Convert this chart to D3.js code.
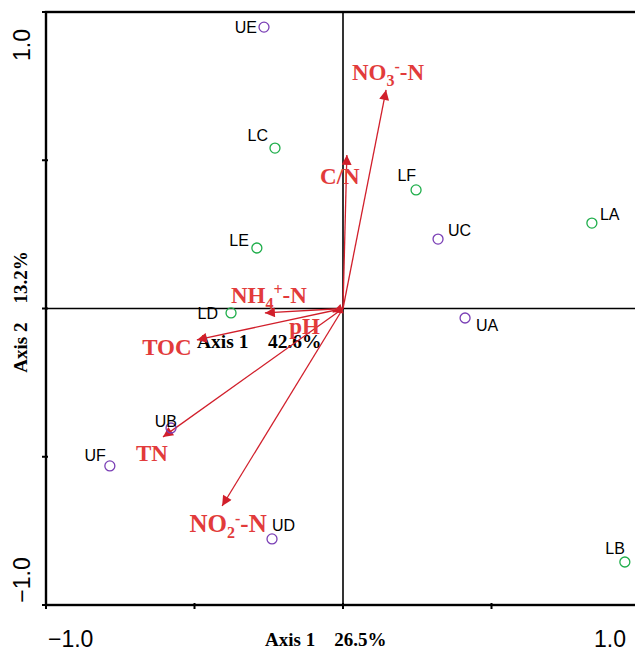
<!DOCTYPE html>
<html>
<head>
<meta charset="utf-8">
<script src="https://cdn.jsdelivr.net/npm/d3@7"></script>
<style>
  body { margin: 0; background: #fff; }
  svg { display: block; }
</style>
</head>
<body>
<div id="chart"></div>
<script>
/* RDA biplot: sites + environmental arrows */

// sites
const siteNames = ["UE", "LC", "LF", "LA", "UC", "LE", "LD", "UA", "UB", "UF", "UD", "LB"];
const siteX = [-0.266, -0.229, 0.246, 0.838, 0.320, -0.290, -0.377, 0.411, -0.579, -0.785, -0.239, 0.949];
const siteY = [0.949, 0.541, 0.400, 0.288, 0.234, 0.204, -0.015, -0.032, -0.403, -0.531, -0.777, -0.855];
const siteGroup = ["U", "L", "L", "L", "U", "L", "L", "U", "U", "U", "U", "L"];

// environmental variables
const envNames = ["NO3-N", "C/N", "NH4-N", "pH", "TOC", "TN", "NO2-N"];
const envX = [0.145, 0.013, -0.263, -0.035, -0.492, -0.606, -0.407];
const envY = [0.737, 0.518, -0.015, -0.012, -0.106, -0.433, -0.666];

const tickVals = [-1, -0.5, 0, 0.5, 1];

const width = 635,
      height = 651,
      margin = ({top: 12, right: -5, bottom: 46, left: 46});

const svg = d3.select("#chart")
    .append("svg")
    .attr("width", width)
    .attr("height", height);

const x = d3.scaleLinear()
    .domain([-1, 1])
    .range([margin.left, width - margin.right]);

const y = d3.scaleLinear()
    .domain([-1, 1])
    .range([height - margin.bottom, margin.top]);

const sans = "'Liberation Sans', Arial, sans-serif",
      serif = "'Liberation Serif', 'Times New Roman', serif",
      red = "#e23b3b",
      arrowRed = "#d11f2b";

// frame
svg.append("rect")
    .attr("x", x(-1)).attr("y", y(1))
    .attr("width", x(1) - x(-1)).attr("height", y(-1) - y(1))
    .attr("fill", "none").attr("stroke", "#000").attr("stroke-width", 2.4);

// zero lines
svg.append("line")
    .attr("x1", x(0)).attr("x2", x(0)).attr("y1", y(1)).attr("y2", y(-1))
    .attr("stroke", "#000").attr("stroke-width", 1.6);
svg.append("line")
    .attr("x1", x(-1)).attr("x2", x(1)).attr("y1", y(0)).attr("y2", y(0))
    .attr("stroke", "#000").attr("stroke-width", 1.6);

// ticks
svg.append("g").selectAll("line")
    .data(tickVals)
    .join("line")
    .attr("x1", d => x(d)).attr("x2", d => x(d))
    .attr("y1", y(-1) - 2).attr("y2", y(-1) + 4)
    .attr("stroke", "#000").attr("stroke-width", 2);
svg.append("g").selectAll("line")
    .data(tickVals)
    .join("line")
    .attr("y1", d => y(d)).attr("y2", d => y(d))
    .attr("x1", x(-1) - 4).attr("x2", x(-1) + 2)
    .attr("stroke", "#000").attr("stroke-width", 2);

// tick labels
const fmt = d3.format(".1f");
svg.append("text")
    .attr("x", x(-1) + 2).attr("y", height - 4)
    .attr("font-family", sans).attr("font-size", 23)
    .text(fmt(-1));
svg.append("text")
    .attr("x", x(1) - 14).attr("y", height - 4)
    .attr("text-anchor", "end")
    .attr("font-family", sans).attr("font-size", 23)
    .text(fmt(1));
svg.append("text")
    .attr("transform", `translate(30,${y(1) + 33}) rotate(-90)`)
    .attr("text-anchor", "middle")
    .attr("font-family", sans).attr("font-size", 23)
    .text(fmt(1));
svg.append("text")
    .attr("transform", `translate(30,${y(-1) - 25}) rotate(-90)`)
    .attr("text-anchor", "middle")
    .attr("font-family", sans).attr("font-size", 23)
    .text(fmt(-1));

// axis titles
svg.append("text")
    .attr("x", 265).attr("y", 646)
    .attr("font-family", serif).attr("font-weight", "bold").attr("font-size", 19)
    .attr("xml:space", "preserve")
    .text("Axis 1    26.5%");
svg.append("text")
    .attr("transform", "translate(27,312) rotate(-90)")
    .attr("text-anchor", "middle")
    .attr("font-family", serif).attr("font-weight", "bold").attr("font-size", 19)
    .attr("xml:space", "preserve")
    .text("Axis 2    13.2%");
svg.append("text")
    .attr("x", 197).attr("y", 348)
    .attr("font-family", serif).attr("font-weight", "bold").attr("font-size", 19.5)
    .attr("xml:space", "preserve")
    .text("Axis 1    42.6%");

// arrows
svg.append("defs").append("marker")
    .attr("id", "head")
    .attr("viewBox", "0 0 10 10")
    .attr("refX", 10).attr("refY", 5)
    .attr("markerWidth", 14).attr("markerHeight", 10)
    .attr("markerUnits", "userSpaceOnUse")
    .attr("orient", "auto")
    .append("path")
    .attr("d", "M0,0L10,5L0,10Z")
    .attr("fill", arrowRed);

const env = envNames.map((n, i) => ({name: n, x: envX[i], y: envY[i]}));

svg.append("g").selectAll("line")
    .data(env)
    .join("line")
    .attr("x1", x(0)).attr("y1", y(0))
    .attr("x2", d => x(d.x)).attr("y2", d => y(d.y))
    .attr("stroke", arrowRed).attr("stroke-width", 1.3)
    .attr("marker-end", "url(#head)");

// arrow labels (pixel offset from tip, chemistry markup)
const envLabel = {
  "NO3-N": {dx: 2, dy: -10, parts: [["NO"], ["3", "sub"], ["-", "sup"], ["-N"]]},
  "C/N":   {dx: -7, dy: 29, parts: [["C/N"]]},
  "NH4-N": {dx: 4, dy: -10, parts: [["NH"], ["4", "sub"], ["+", "sup"], ["-N"]]},
  "pH":    {dx: -28, dy: 22, parts: [["pH"]]},
  "TOC":   {dx: -30, dy: 15, parts: [["TOC"]]},
  "TN":    {dx: -11, dy: 24, parts: [["TN"]]},
  "NO2-N": {dx: 6, dy: 26, parts: [["NO"], ["2", "sub"], ["-", "sup"], ["-N"]]}
};

const lab = svg.append("g").selectAll("text")
    .data(env)
    .join("text")
    .attr("x", d => x(d.x) + envLabel[d.name].dx)
    .attr("y", d => y(d.y) + envLabel[d.name].dy)
    .attr("text-anchor", "middle")
    .attr("font-family", serif).attr("font-weight", "bold")
    .attr("font-size", d => d.name === "NO2-N" ? 24 : 23)
    .attr("fill", red);

lab.each(function(d) {
  const t = d3.select(this);
  const big = d.name === "NO2-N" ? 25 : 23;
  let shift = 0;
  envLabel[d.name].parts.forEach(([s, kind]) => {
    const target = kind === "sub" ? 6 : kind === "sup" ? -8 : 0;
    t.append("tspan")
      .attr("dy", target - shift)
      .attr("font-size", kind ? 16 : big)
      .text(s);
    shift = target;
  });
});

// sites
const sites = siteNames.map((n, i) => ({name: n, x: siteX[i], y: siteY[i], g: siteGroup[i]}));
const groupColor = {U: "#7a3fb5", L: "#1fae4b"};

// label placement per site: [dx, dy, anchor]
const siteLabel = {
  UE: [-7, 6, "end"], LC: [-7, -7, "end"], LF: [0, -9, "end"], LA: [8, -3, "start"],
  UC: [10, -3, "start"], LE: [-8, -2, "end"], LD: [-13, 6, "end"], UA: [11, 13, "start"],
  UB: [6, -1, "end"], UF: [-4, -5, "end"], UD: [0, -8, "start"], LB: [0, -8, "end"]
};

const site = svg.append("g").selectAll("g")
    .data(sites)
    .join("g")
    .attr("transform", d => `translate(${x(d.x)},${y(d.y)})`);

site.append("circle")
    .attr("r", 5)
    .attr("fill", "none")
    .attr("stroke", d => groupColor[d.g])
    .attr("stroke-width", 1.3);

site.append("text")
    .attr("x", d => siteLabel[d.name][0])
    .attr("y", d => siteLabel[d.name][1])
    .attr("text-anchor", d => siteLabel[d.name][2])
    .attr("font-family", sans).attr("font-size", 16)
    .text(d => d.name);
</script>
</body>
</html>
